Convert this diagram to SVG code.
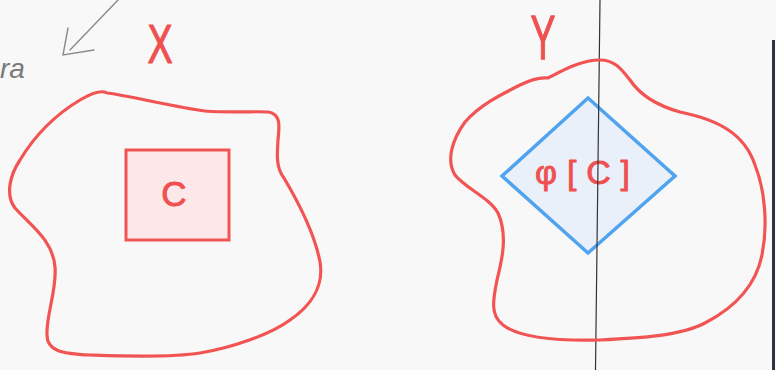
<svg xmlns="http://www.w3.org/2000/svg" width="776" height="370" viewBox="0 0 776 370">
<style>
.blob{fill:none;stroke:#f25454;stroke-width:3.2;stroke-linecap:round;stroke-linejoin:round}
.lbl{font-family:"Liberation Sans","DejaVu Sans",sans-serif;fill:#ef5050;stroke:#ef5050;stroke-width:0.9;stroke-linejoin:round}
.hand{fill:none;stroke:#8a8a8a;stroke-width:1.4;stroke-linecap:round}
</style>
<rect width="776" height="370" fill="#f8f8f8"/>
<line x1="773.5" y1="40" x2="773.5" y2="370" stroke="#2f3540" stroke-width="3"/>
<g id="annotation">
<path class="hand" d="M118,0 L70,50 M68,28 L63,55 L94,50"/>
<text x="0" y="78" font-family="'Liberation Sans',sans-serif" font-style="italic" font-size="28" fill="#7a7a7a">ra</text>
</g>
<g id="X">
<path class="blob" d="M107,93 C125,95 180,108 205,111 C230,113 260,111 268,112 C282,114 279,128 278,140 C277,155 276,168 284,178 C300,205 315,235 320,262 C324,285 312,305 290,320 C270,335 230,348 200,353 C170,358 120,356 90,355 C60,354 47,350 47,335 C46,315 57,290 55,267 C53,240 30,225 15,208 C5,195 10,175 20,160 C35,135 55,115 80,100 C92,93 102,90 107,93 Z"/>
<text class="lbl" font-size="42" text-anchor="middle" transform="translate(160,63) scale(0.9,1.3)">X</text>
</g>
<g id="C">
<rect x="126" y="150" width="103" height="90" fill="#fce8e8" stroke="#f25454" stroke-width="3"/>
<text class="lbl" x="174" y="206" font-size="35" text-anchor="middle">C</text>
</g>
<g id="phiC">
<polygon points="588,98 675,176 588,253 502,176" fill="#e6effa" fill-opacity="0.85" stroke="#4fa3ef" stroke-width="3.5" stroke-linejoin="miter"/>
<text class="lbl" x="535" y="184" font-size="34" textLength="95" lengthAdjust="spacing">φ[C]</text>
</g>
<line x1="600" y1="0" x2="595.5" y2="370" stroke="#333" stroke-width="1.2"/>
<g id="Y">
<path class="blob" d="M600,60 C615,60 622,70 630,80 C640,95 655,105 680,112 C720,120 745,135 755,165 C765,190 768,225 762,255 C755,290 730,310 705,323 C680,336 640,338 600,340 C560,341 520,338 503,325 C490,315 493,300 497,280 C502,260 508,235 498,213 C490,198 465,188 455,175 C446,160 452,140 465,122 C480,105 500,95 520,85 C530,80 540,77 548,78 C560,72 580,60 600,60 Z"/>
<text class="lbl" font-size="44" text-anchor="middle" transform="translate(543,59) scale(0.85,1.45)">Y</text>
</g>
</svg>
